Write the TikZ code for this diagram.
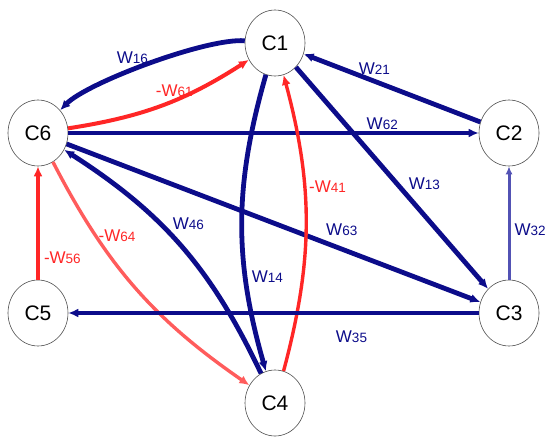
\documentclass[tikz,border=0pt]{standalone}
\usepackage{fontspec}
\setmainfont{Liberation Sans}
\usetikzlibrary{
  arrows.meta,
  shapes.geometric,
  positioning
}
\definecolor{fcmNavy}{HTML}{0C0C8A}
\definecolor{fcmRed}{HTML}{FF2626}
\definecolor{fcmPink}{HTML}{FF5C5C}
\definecolor{fcmSlate}{HTML}{5252B4}
\newcommand{\wgt}[2][]{#1W{\fontsize{13.5}{14}\selectfont #2}}
\tikzset{
  concept/.style={
    draw=black!70, ellipse, fill=white, line width=0.6pt,
    minimum width=60pt, minimum height=66pt, inner sep=0pt,
    font=\fontsize{21}{21}\selectfont
  },
  causal/.style={-{Latex[length=10pt,width=9pt]}, line width=4.8pt, fcmNavy},
  minor/.style={-{Latex[length=8pt,width=7pt]}, line width=3pt, fcmSlate},
  inhib/.style={-{Latex[length=10pt,width=9pt]}, line width=4pt, fcmRed},
  soft/.style={inhib, line width=3.4pt, fcmPink},
  wlabel/.style={font=\fontsize{17}{17}\selectfont, text=fcmNavy, inner sep=1pt},
  nlabel/.style={wlabel, text=fcmRed}
}

\begin{document}
\begin{tikzpicture}[x=1pt, y=1pt]
  \useasboundingbox (0,0) rectangle (545,437);
  \node[concept] (c1) at (275,394) {C1};
  \node[concept] (c2) at (509,304) {C2};
  \node[concept] (c3) at (509,124) {C3};
  \node[concept] (c4) at (275,34) {C4};
  \node[concept] (c5) at (38,124) {C5};
  \node[concept] (c6) at (38,304) {C6};
  % around the top
  \draw[causal] (c1) to[bend right=25, looseness=0.5] node[wlabel, pos=0.57, above=3pt] {\wgt{16}} (c6);
  \draw[inhib] (c6) to[bend right=12] node[nlabel, pos=0.57, above=1pt] {\wgt[-]{61}} (c1);
  \draw[causal] (c2) -- node[wlabel, pos=0.6, above=3pt] {\wgt{21}} (c1);
  \draw[causal] (c6) -- node[wlabel, pos=0.765, above=0pt] {\wgt{62}} (c2);
  % through the middle
  \draw[causal] (c1) -- node[wlabel, pos=0.57, anchor=south west] {\wgt{13}} (c3);
  \draw[causal] (c6) -- node[wlabel, pos=0.665, above=10pt] {\wgt{63}} (c3);
  \draw[causal] (c1) to[bend right=16] node[wlabel, pos=0.69, right=3pt] {\wgt{14}} (c4);
  \draw[inhib, line width=3.4pt] (c4) to[bend right=15] node[nlabel, pos=0.63, right=2pt] {\wgt[-]{41}} (c1);
  \draw[causal] (c4) to[bend right=16] node[wlabel, pos=0.56, anchor=south west] {\wgt{46}} (c6);
  \draw[soft] (c6) to[bend right=14] node[nlabel, pos=0.27, right=0pt] {\wgt[-]{64}} (c4);
  % sides and bottom
  \draw[minor] (c3) -- node[wlabel, pos=0.44, right=3pt] {\wgt{32}} (c2);
  \draw[causal] (c3) -- node[wlabel, pos=0.31, below=14pt] {\wgt{35}} (c5);
  \draw[inhib] (c5) -- node[nlabel, pos=0.19, right=3pt] {\wgt[-]{56}} (c6);
\end{tikzpicture}
\end{document}
